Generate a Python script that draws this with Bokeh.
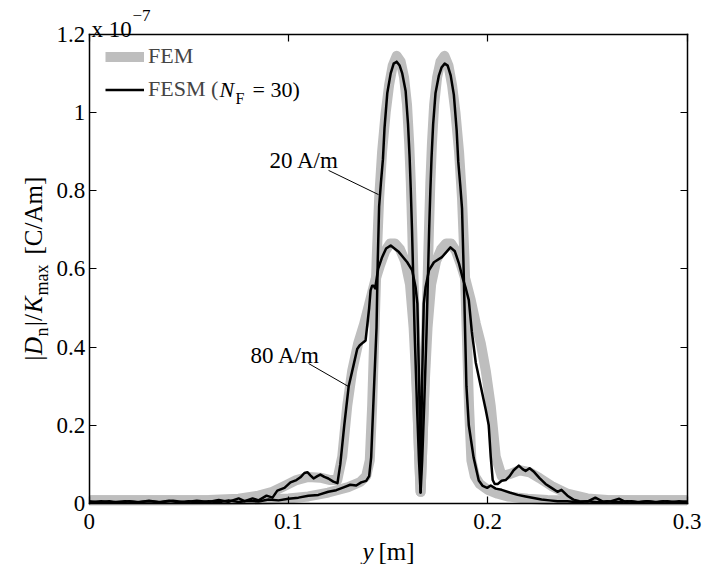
import math
from bokeh.plotting import figure
from bokeh.models import (Range1d, LinearAxis, FixedTicker, Label, Legend, LegendItem,
                          CustomJSTickFormatter)
from bokeh.embed import file_html
from bokeh.resources import INLINE

# ---------------- data (values in units of 1e-7 C/Am) ----------------
x_ticks = [0, 0.1, 0.2, 0.3]
x_tick_labels = ["0", "0.1", "0.2", "0.3"]
y_ticks = [0, 0.2, 0.4, 0.6, 0.8, 1.0, 1.2]
y_tick_labels = ["0", "0.2", "0.4", "0.6", "0.8", "1", "1.2"]

# FEM, 20 A/m (grey, smooth)
fem20_x = [0.0, 0.04, 0.07, 0.09, 0.10, 0.11, 0.12, 0.13, 0.136, 0.139, 0.1408, 0.142, 0.1432,
           0.1443, 0.1455, 0.147, 0.1488, 0.1505, 0.1523, 0.1543, 0.1563, 0.158, 0.1595, 0.1606,
           0.1614, 0.1621, 0.1628, 0.1636, 0.1647, 0.1656, 0.1663,
           0.167, 0.1679, 0.169, 0.1698, 0.1705, 0.1712, 0.172, 0.1731, 0.1746, 0.1763, 0.1783,
           0.1803, 0.1821, 0.1838, 0.1856, 0.1871, 0.1883, 0.1894, 0.1906, 0.1918, 0.1935, 0.196,
           0.2, 0.205, 0.21, 0.22, 0.23, 0.25, 0.27, 0.3]
fem20_y = [0.008, 0.008, 0.008, 0.010, 0.013, 0.018, 0.028, 0.042, 0.055, 0.070, 0.110, 0.250,
           0.450, 0.630, 0.780, 0.900, 1.000, 1.070, 1.120, 1.145, 1.130, 1.090, 1.020, 0.920,
           0.820, 0.700, 0.570, 0.420, 0.250, 0.120, 0.030,
           0.120, 0.250, 0.420, 0.570, 0.700, 0.820, 0.920, 1.020, 1.090, 1.130, 1.145, 1.120,
           1.070, 1.000, 0.900, 0.780, 0.630, 0.450, 0.250, 0.110, 0.070, 0.050, 0.035, 0.025,
           0.018, 0.012, 0.009, 0.008, 0.008, 0.008]

# FESM (N_F = 30), 20 A/m (black)
fesm20_x = [0.000, 0.005, 0.010, 0.015, 0.020, 0.025, 0.030, 0.035, 0.040, 0.045, 0.050, 0.055,
            0.060, 0.065, 0.070, 0.075, 0.080, 0.085, 0.090, 0.095, 0.100, 0.105, 0.110, 0.115,
            0.120, 0.124, 0.128, 0.131, 0.134, 0.1365, 0.139, 0.1405, 0.1415, 0.1428,
            0.1442, 0.1448, 0.1455, 0.1464, 0.1474, 0.1482, 0.1496, 0.1513, 0.1528, 0.1543,
            0.1558, 0.1571, 0.1588, 0.1600, 0.1608, 0.1614, 0.1620, 0.1626, 0.1633, 0.1645,
            0.1655, 0.1663,
            0.1671, 0.1681, 0.1693, 0.1700, 0.1706, 0.1712, 0.1718, 0.1726, 0.1738, 0.1755,
            0.1768, 0.1784, 0.1799, 0.1814, 0.1830, 0.1844, 0.1852, 0.1862, 0.1871, 0.1878,
            0.1886, 0.1893, 0.1905, 0.1929, 0.1955, 0.1975, 0.1997, 0.2015, 0.204, 0.207, 0.211,
            0.215, 0.219, 0.223, 0.227, 0.231, 0.235, 0.240, 0.245, 0.250, 0.255, 0.260, 0.265,
            0.270, 0.275, 0.280, 0.285, 0.290, 0.295, 0.300]
fesm20_y = [0.006, 0.002, 0.006, 0.002, 0.006, 0.003, 0.007, 0.003, 0.007, 0.003, 0.006, 0.002,
            0.006, 0.003, 0.008, 0.004, 0.007, 0.005, 0.010, 0.008, 0.012, 0.015, 0.020, 0.022,
            0.030, 0.034, 0.042, 0.048, 0.046, 0.054, 0.058, 0.070, 0.118, 0.280,
            0.450, 0.620, 0.760, 0.820, 0.880, 0.960, 1.050, 1.100, 1.125, 1.130,
            1.120, 1.100, 1.055, 0.970, 0.885, 0.800, 0.700, 0.580, 0.440, 0.250,
            0.110, 0.028,
            0.110, 0.250, 0.440, 0.580, 0.700, 0.800, 0.885, 0.970, 1.050, 1.095,
            1.115, 1.125, 1.120, 1.095, 1.045, 0.955, 0.875, 0.815, 0.755, 0.620,
            0.450, 0.300, 0.200, 0.118, 0.059, 0.045, 0.040, 0.046, 0.038, 0.035, 0.028,
            0.022, 0.018, 0.014, 0.010, 0.008, 0.006, 0.006, 0.003, 0.006, 0.003, 0.006, 0.003,
            0.006, 0.003, 0.006, 0.003, 0.006, 0.003, 0.005]

# FEM, 80 A/m (grey, smooth)
fem80_x = [0.0, 0.04, 0.06, 0.075, 0.085, 0.092, 0.098, 0.104, 0.11, 0.116, 0.121, 0.1245, 0.127,
           0.1295, 0.132, 0.135, 0.138, 0.141, 0.1435, 0.146, 0.1485, 0.151, 0.1535, 0.156,
           0.1585, 0.161, 0.1628, 0.1643, 0.1655, 0.1663, 0.1671, 0.1683, 0.1698, 0.1716, 0.1741,
           0.1766, 0.1791, 0.1816, 0.1841, 0.1866, 0.189, 0.1915, 0.194, 0.1965, 0.199, 0.2015,
           0.204, 0.207, 0.211, 0.216, 0.221, 0.226, 0.232, 0.24, 0.25, 0.26, 0.28, 0.3]
fem80_y = [0.008, 0.008, 0.009, 0.012, 0.020, 0.030, 0.045, 0.060, 0.068, 0.066, 0.060, 0.060,
           0.120, 0.250, 0.340, 0.410, 0.460, 0.520, 0.570, 0.610, 0.645, 0.665, 0.665, 0.650,
           0.620, 0.560, 0.450, 0.300, 0.130, 0.030, 0.130, 0.300, 0.450, 0.560, 0.620, 0.650,
           0.665, 0.665, 0.645, 0.610, 0.570, 0.520, 0.460, 0.410, 0.340, 0.250, 0.120, 0.070,
           0.075, 0.085, 0.080, 0.065, 0.045, 0.025, 0.013, 0.009, 0.008, 0.008]

# FESM (N_F = 30), 80 A/m (black)
fesm80_x = [0.000, 0.006, 0.012, 0.018, 0.024, 0.030, 0.036, 0.042, 0.048, 0.054, 0.060, 0.065,
            0.070, 0.072, 0.075, 0.078, 0.082, 0.085, 0.089, 0.092, 0.0944, 0.098, 0.101, 0.104,
            0.106, 0.108, 0.1095, 0.111, 0.1126, 0.1145, 0.116, 0.118, 0.120, 0.1225, 0.1246,
            0.126, 0.128, 0.1302, 0.1325, 0.1345, 0.1357, 0.1375, 0.1387, 0.1405, 0.1412, 0.142,
            0.1427, 0.1435, 0.145, 0.147, 0.149, 0.1513, 0.1554, 0.1596, 0.1621, 0.1638, 0.1647,
            0.1656, 0.1663, 0.1670, 0.1679, 0.1688, 0.1705, 0.1730, 0.1770, 0.1813, 0.1835,
            0.1855, 0.1875, 0.1890, 0.1905, 0.1920, 0.1940, 0.1965, 0.1990, 0.2005, 0.2015,
            0.2025, 0.2035, 0.2050, 0.2070, 0.2090, 0.2110, 0.2130, 0.2156, 0.2175, 0.2190,
            0.2210, 0.2230, 0.2260, 0.2290, 0.2320, 0.2350, 0.2370, 0.2400, 0.2430, 0.2460,
            0.2500, 0.2540, 0.2580, 0.2620, 0.2660, 0.2690, 0.2720, 0.2760, 0.2800, 0.2840,
            0.2880, 0.2920, 0.2960, 0.3000]
fesm80_y = [0.003, 0.006, 0.003, 0.006, 0.003, 0.006, 0.003, 0.007, 0.003, 0.007, 0.004, 0.009,
            0.004, 0.008, 0.013, 0.006, 0.013, 0.008, 0.020, 0.015, 0.033, 0.040, 0.054, 0.060,
            0.067, 0.078, 0.080, 0.072, 0.064, 0.070, 0.074, 0.068, 0.064, 0.056, 0.052, 0.100,
            0.200, 0.299, 0.350, 0.395, 0.404, 0.412, 0.417, 0.500, 0.545, 0.557, 0.557, 0.550,
            0.600, 0.630, 0.652, 0.660, 0.643, 0.617, 0.596, 0.553, 0.511, 0.300, 0.028, 0.300,
            0.511, 0.553, 0.596, 0.617, 0.630, 0.655, 0.645, 0.615, 0.575, 0.550, 0.520, 0.440,
            0.360, 0.300, 0.240, 0.200, 0.120, 0.060, 0.050, 0.050, 0.058, 0.060, 0.070, 0.085,
            0.097, 0.088, 0.083, 0.090, 0.082, 0.065, 0.050, 0.040, 0.030, 0.035, 0.020, 0.010,
            0.006, 0.005, 0.015, 0.004, 0.006, 0.012, 0.004, 0.006, 0.003, 0.006, 0.003, 0.006,
            0.003, 0.006, 0.003, 0.005]

# annotations (data units)
ann_texts = ["20 A/m", "80 A/m"]
ann_text_x = [0.0905, 0.0809]
ann_text_y = [0.877, 0.3785]
ann_x0 = [0.1201, 0.1101]
ann_y0 = [0.852, 0.358]
ann_x1 = [0.1452, 0.1302]
ann_y1 = [0.790, 0.299]

# ---------------- figure ----------------
FONT = "Liberation Serif"
FS = "23px"
LGS = "22px"
LFS = "25px"
GREY = "#bebebe"
W, H = 704, 564

# The frame fills the whole canvas; the axes box is drawn by four fixed-location
# axes bounded to the data limits, so texts outside the box are not clipped.
p = figure(width=W, height=H, x_range=Range1d(-0.04451, 0.30878),
           y_range=Range1d(-0.15601, 1.28645), output_backend="svg", toolbar_location=None,
           x_axis_location=None, y_axis_location=None,
           min_border_left=0, min_border_right=0, min_border_top=0, min_border_bottom=0)
p.grid.visible = False
p.outline_line_color = None
p.background_fill_color = "white"
p.border_fill_color = "white"

def fmt(ticks, labels):
    return CustomJSTickFormatter(args=dict(t=ticks, l=labels),
        code="const i = t.findIndex(v => Math.abs(v - tick) < 1e-9); return i >= 0 ? l[i] : '';")

def make_axis(ticks, labels, loc, bounds, standoff):
    ax = LinearAxis(fixed_location=loc, bounds=bounds)
    ax.ticker = FixedTicker(ticks=ticks)
    ax.formatter = fmt(ticks, labels)
    ax.major_tick_in = 7
    ax.major_tick_out = 0
    ax.minor_tick_line_color = None
    ax.axis_line_width = 1.5
    ax.axis_line_cap = "square"
    ax.major_tick_line_width = 1.2
    ax.major_label_text_font = FONT
    ax.major_label_text_font_size = FS
    ax.major_label_text_color = "black"
    ax.major_label_standoff = standoff
    return ax

p.add_layout(make_axis(x_ticks, x_tick_labels, 0, (0, 0.3), 10), "below")
p.add_layout(make_axis(y_ticks, y_tick_labels, 0, (0, 1.2), 4), "left")
p.add_layout(make_axis(x_ticks, ["" for _ in x_ticks], 1.2, (0, 0.3), 0), "above")
p.add_layout(make_axis(y_ticks, ["" for _ in y_ticks], 0.3, (0, 1.2), 0), "right")

# curves
r_fem20 = p.line(fem20_x, fem20_y, line_color=GREY, line_width=10, line_join="round")
r_fem80 = p.line(fem80_x, fem80_y, line_color=GREY, line_width=10, line_join="round")
r_fesm20 = p.line(fesm20_x, fesm20_y, line_color="black", line_width=2.5, line_join="round")
r_fesm80 = p.line(fesm80_x, fesm80_y, line_color="black", line_width=2.5, line_join="round")

# annotation pointers + texts
p.segment(x0=ann_x0, y0=ann_y0, x1=ann_x1, y1=ann_y1, line_color="black", line_width=1)
for t, tx, ty in zip(ann_texts, ann_text_x, ann_text_y):
    p.add_layout(Label(x=tx, y=ty, text=t, text_font=FONT, text_font_size=FS,
                       text_baseline="alphabetic", text_align="left", text_color="black"))

# legend (location = bottom-left corner of the legend box, from canvas bottom-left)
legend = Legend(items=[LegendItem(label="FEM", renderers=[r_fem20]),
                       LegendItem(label="FESM (", renderers=[r_fesm20])],
                location=(105, 458.5), orientation="vertical",
                glyph_width=39, glyph_height=33, label_height=33, spacing=0, padding=0,
                margin=0, label_standoff=4, border_line_color=None, background_fill_alpha=0,
                label_text_font=FONT, label_text_font_size=LGS)
p.add_layout(legend)

def slabel(x, y, text, size=FS, style="normal", angle=0.0, baseline="alphabetic", align="left"):
    # x, y: screen pixels from the canvas' bottom-left corner
    p.add_layout(Label(x=x, y=y, x_units="screen", y_units="screen", text=text,
                       text_font=FONT, text_font_size=size, text_font_style=style,
                       text_baseline=baseline, text_align=align, angle=angle,
                       text_color="black"))

# legend second line remainder: N_F = 30)
slabel(219, 475, "N", size=LGS, style="italic", baseline="middle")
slabel(235, 466, "F", size="16px", baseline="middle")
slabel(252, 475, "= 30)", size=LGS, baseline="middle")

# exponent label
slabel(91, 535, "x 10")
slabel(132, 549, "\u22127", size="17px")

# x axis label
slabel(362, 13, "y", style="italic", size=LFS)
slabel(378, 13, "[m]", size=LFS)

# y axis label (rotated, reading bottom to top)
A = math.pi / 2
bx, sx = 33, 41
slabel(bx, 204, "|", angle=A, size=LFS)
slabel(bx, 209.5, "D", style="italic", angle=A, size=LFS)
slabel(sx, 228, "n", size="18px", angle=A)
slabel(bx, 238.5, "|/", angle=A, size=LFS)
slabel(bx, 251.5, "K", style="italic", angle=A, size=LFS)
slabel(sx, 269, "max", size="18px", angle=A)
slabel(bx, 310, "[C/Am]", angle=A, size=LFS)

open("out.html", "w").write(file_html(p, INLINE))
